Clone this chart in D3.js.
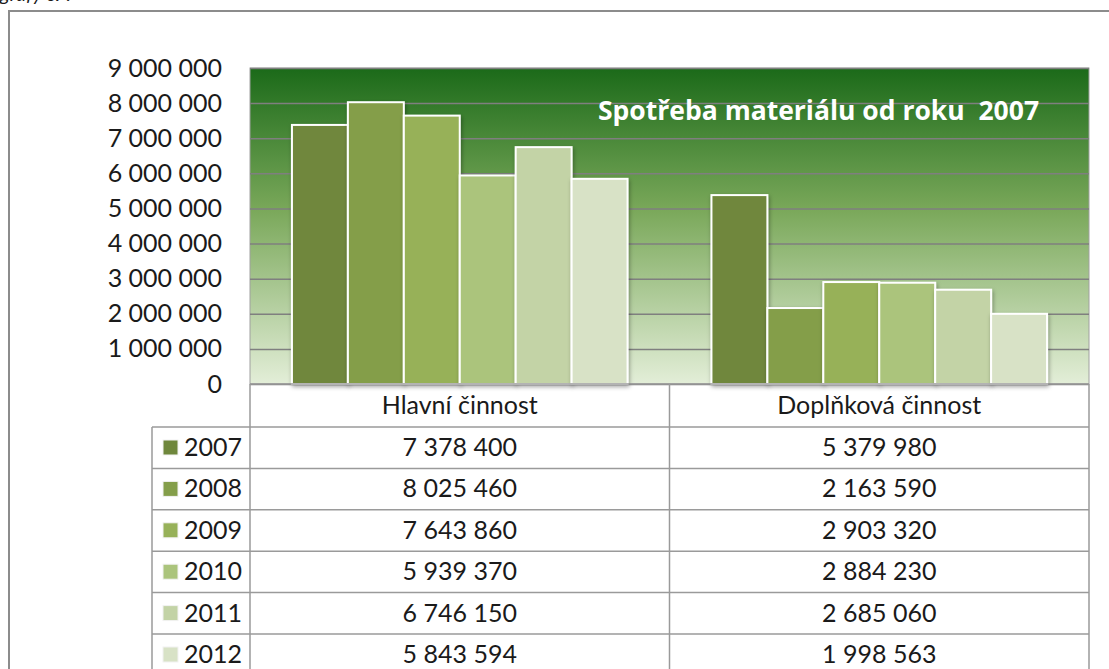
<!DOCTYPE html>
<html>
<head>
<meta charset="utf-8">
<script src="https://cdn.jsdelivr.net/npm/d3@7"></script>
<style>
  body { margin: 0; background: #fff; }
  svg text { font-family: Lato, "Open Sans", sans-serif; fill: #1a1a1a; }
</style>
</head>
<body>
<div class="container"></div>
<script>
// data
var categories = ["Hlavní činnost", "Doplňková činnost"];
var years = ["2007", "2008", "2009", "2010", "2011", "2012"];
var hlavni = [7378400, 8025460, 7643860, 5939370, 6746150, 5843594];
var doplnkova = [5379980, 2163590, 2903320, 2884230, 2685060, 1998563];
var yTicks = [0, 1000000, 2000000, 3000000, 4000000, 5000000, 6000000, 7000000, 8000000, 9000000];
var title = "Spotřeba materiálu od roku  2007";

var w = 1109, h = 669;
var plotLeft = 250, plotRight = 1089, plotTop = 68, plotBottom = 384;
var rowH = 41.4;
var fs = "25px";
var colorsByYear = ["#6f873c", "#849e4a", "#97b159", "#abc47c", "#c3d3a6", "#d8e2c6"];

var cz = d3.formatLocale({decimal: ",", thousands: " ", grouping: [3], currency: ["", " Kč"]});
var fmt = cz.format(",d");

var series = [hlavni, doplnkova];

var svg = d3.select(".container")
    .append("svg")
    .attr("width", w)
    .attr("height", h);

var defs = svg.append("defs");
var grad = defs.append("linearGradient")
    .attr("id", "bg")
    .attr("x1", 0).attr("y1", 0).attr("x2", 0).attr("y2", 1);
grad.append("stop").attr("offset", "0%").attr("stop-color", "#1b6a19");
grad.append("stop").attr("offset", "45%").attr("stop-color", "#7aa85a");
grad.append("stop").attr("offset", "100%").attr("stop-color", "#e3eed8");

var shadow = defs.append("filter").attr("id", "sh")
    .attr("x", "-20%").attr("y", "-10%").attr("width", "140%").attr("height", "130%");
shadow.append("feDropShadow")
    .attr("dx", 1).attr("dy", 2).attr("stdDeviation", 2)
    .attr("flood-color", "#000").attr("flood-opacity", 0.35);

// caption cut off at the top
svg.append("text")
    .attr("x", 0).attr("y", 1)
    .attr("font-size", "20px")
    .attr("font-style", "italic")
    .text("grafy č. 7");

// outer frame
svg.append("path")
    .attr("d", "M9," + h + "V11H" + w)
    .attr("fill", "none")
    .attr("stroke", "#8c8c8c")
    .attr("stroke-width", 2);

var x0 = d3.scaleBand()
    .domain(categories)
    .range([plotLeft, plotRight])
    .paddingInner(0.2)
    .paddingOuter(0.1);

var x1 = d3.scaleBand()
    .domain(years)
    .range([0, x0.bandwidth()]);

var y = d3.scaleLinear()
    .domain([0, 9000000])
    .range([plotBottom, plotTop]);

var color = d3.scaleOrdinal().domain(years).range(colorsByYear);

// plot area
svg.append("rect")
    .attr("x", plotLeft).attr("y", plotTop)
    .attr("width", plotRight - plotLeft).attr("height", plotBottom - plotTop)
    .attr("fill", "url(#bg)")
    .attr("stroke", "#a0a0a0")
    .attr("stroke-width", 1);

// gridlines
var grid = svg.append("g")
    .attr("transform", "translate(" + plotLeft + ",0)")
    .call(d3.axisRight(y).tickValues(yTicks).tickSize(plotRight - plotLeft).tickFormat(""));
grid.select(".domain").remove();
grid.selectAll("line").attr("stroke", "#7f7f7f").attr("stroke-width", 1.5);

// y axis labels
var yAxis = svg.append("g")
    .attr("transform", "translate(222,0)")
    .call(d3.axisLeft(y).tickValues(yTicks).tickSize(0).tickFormat(fmt));
yAxis.select(".domain").remove();
yAxis.selectAll("text")
    .attr("x", 0)
    .attr("font-size", fs)
    .attr("fill", "#1a1a1a");

// bars
var groups = svg.selectAll("g.cat")
    .data(categories)
    .enter()
    .append("g")
    .attr("class", "cat")
    .attr("transform", function(d) { return "translate(" + x0(d) + ",0)"; });

groups.selectAll("rect")
    .data(function(d, i) {
        return years.map(function(yr, j) { return {year: yr, value: series[i][j]}; });
    })
    .enter()
    .append("rect")
    .attr("x", function(d) { return x1(d.year); })
    .attr("y", function(d) { return y(d.value); })
    .attr("width", x1.bandwidth())
    .attr("height", function(d) { return plotBottom - y(d.value); })
    .attr("fill", function(d) { return color(d.year); })
    .attr("stroke", "#fff")
    .attr("stroke-width", 2)
    .attr("filter", "url(#sh)");

// title (double space kept)
svg.append("text")
    .attr("x", 598).attr("y", 120)
    .attr("xml:space", "preserve")
    .style("white-space", "pre")
    .style("font-family", "'Open Sans', Lato, sans-serif")
    .attr("font-size", "26.5px")
    .attr("font-weight", "bold")
    .style("fill", "#fff")
    .text(title);

// data table
var tableLeft = 152;
var tbl = svg.append("g");
var lineCol = "#9a9a9a";

tbl.append("line")
    .attr("x1", plotLeft).attr("x2", plotRight).attr("y1", plotBottom).attr("y2", plotBottom)
    .attr("stroke", lineCol).attr("stroke-width", 1.5);

var headerBottom = plotBottom + 43;
for (var r = 0; r <= years.length; r++) {
    tbl.append("line")
        .attr("x1", tableLeft).attr("x2", plotRight)
        .attr("y1", headerBottom + r * rowH).attr("y2", headerBottom + r * rowH)
        .attr("stroke", lineCol).attr("stroke-width", 1.5);
}
[plotLeft, plotLeft + x0.step(), plotRight].forEach(function(xv) {
    tbl.append("line")
        .attr("x1", xv).attr("x2", xv).attr("y1", plotBottom).attr("y2", h)
        .attr("stroke", lineCol).attr("stroke-width", 1.5);
});
tbl.append("line")
    .attr("x1", tableLeft).attr("x2", tableLeft).attr("y1", headerBottom).attr("y2", h)
    .attr("stroke", lineCol).attr("stroke-width", 1.5);

var colCenter = function(i) { return plotLeft + x0.step() * (i + 0.5); };

tbl.selectAll("text.hdr")
    .data(categories)
    .enter()
    .append("text")
    .attr("class", "hdr")
    .attr("x", function(d, i) { return colCenter(i); })
    .attr("y", plotBottom + 30)
    .attr("text-anchor", "middle")
    .attr("font-size", fs)
    .text(function(d) { return d; });

var rows = tbl.selectAll("g.row")
    .data(years)
    .enter()
    .append("g")
    .attr("class", "row")
    .attr("transform", function(d, i) { return "translate(0," + (headerBottom + i * rowH) + ")"; });

rows.append("rect")
    .attr("x", 163).attr("y", 13)
    .attr("width", 15).attr("height", 15)
    .attr("fill", function(d) { return color(d); })
    .attr("stroke", "#f2f2f2")
    .attr("stroke-width", 1);

rows.append("text")
    .attr("x", 184).attr("y", 29)
    .attr("font-size", fs)
    .text(function(d) { return d; });

series.forEach(function(s, ci) {
    rows.append("text")
        .attr("x", colCenter(ci))
        .attr("y", 29)
        .attr("text-anchor", "middle")
        .attr("font-size", fs)
        .text(function(d, i) { return fmt(s[i]); });
});
</script>
</body>
</html>
